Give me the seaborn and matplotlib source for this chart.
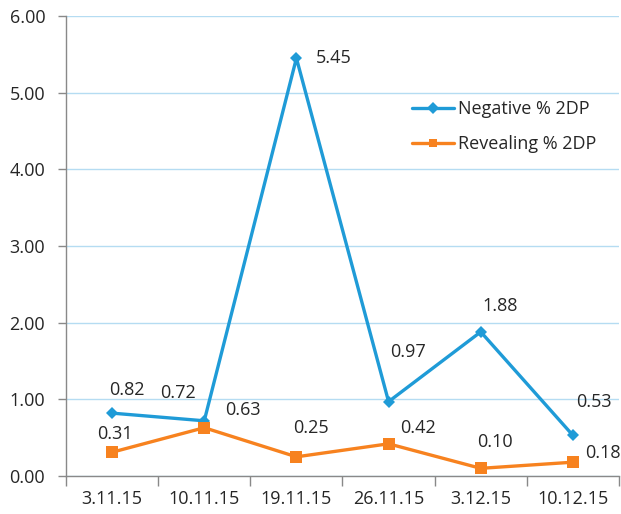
import numpy as np
import pandas as pd
import seaborn as sns
import matplotlib.pyplot as plt
from matplotlib.ticker import FixedLocator

dates = ["3.11.15", "10.11.15", "19.11.15", "26.11.15", "3.12.15", "10.12.15"]
negative = [0.82, 0.72, 5.45, 0.97, 1.88, 0.53]
revealing = [0.31, 0.63, 0.25, 0.42, 0.10, 0.18]

# label offsets (pixels)
neg_off = [(15, 23), (-26, 28), (37, 0), (19, 50), (19, 26), (21, 33)]
rev_off = [(3, 18), (39, 18), (15, 29), (29, 16), (14, 26), (30, 9)]

BLUE = "#1f9bd7"
ORANGE = "#f7821f"
FS = 13

sns.set_style("white")
plt.rcParams["font.family"] = ["Open Sans", "DejaVu Sans"]

df = pd.DataFrame({
    "date": dates * 2,
    "value": negative + revealing,
    "series": ["Negative % 2DP"] * 6 + ["Revealing % 2DP"] * 6,
})

fig = plt.figure(figsize=(6.21, 5.14), dpi=100)
ax = fig.add_axes([66 / 621, 1 - 476 / 514, 553 / 621, 460 / 514])

sns.lineplot(data=df, x="date", y="value", hue="series", style="series",
             palette=[BLUE, ORANGE], markers=["D", "s"], dashes=False,
             sort=False, linewidth=2.4, markeredgewidth=0, ax=ax)
for ln, ms in zip(ax.lines, [6.5, 8.5]):
    ln.set_markersize(ms)

ax.set_xlim(-0.5, 5.5)
ax.set_ylim(0, 6)
ax.set_yticks(np.arange(0, 6.01, 1))
ax.set_yticklabels([f"{v:.2f}" for v in np.arange(0, 6.01, 1)])
ax.set_xticks(range(len(dates)))
ax.set_xticklabels(dates)
ax.xaxis.set_minor_locator(FixedLocator(np.arange(-0.5, 5.51, 1)))
ax.tick_params(axis="x", which="major", length=0, pad=10, labelsize=FS)
ax.tick_params(axis="x", which="minor", length=7, width=1, color="#898989", direction="out", bottom=True)
ax.tick_params(axis="y", length=6, width=1, color="#898989", direction="out", left=True, pad=9, labelsize=FS)
ax.set_xlabel("")
ax.set_ylabel("")

ax.yaxis.grid(True, color="#b5dcf2", linewidth=1)
ax.set_axisbelow(True)
for s in ["top", "right"]:
    ax.spines[s].set_visible(False)
for s in ["left", "bottom"]:
    ax.spines[s].set_color("#898989")
    ax.spines[s].set_linewidth(1)

for i, (v, off) in enumerate(zip(negative, neg_off)):
    ax.annotate(f"{v:.2f}", (i, v), xytext=off, textcoords="offset pixels",
                ha="center", va="center", fontsize=FS)
for i, (v, off) in enumerate(zip(revealing, rev_off)):
    ax.annotate(f"{v:.2f}", (i, v), xytext=off, textcoords="offset pixels",
                ha="center", va="center", fontsize=FS)

ax.legend(loc="upper left", bbox_to_anchor=((412 - 66) / 553, (476 - 100) / 460),
          frameon=False, fontsize=FS, handlelength=2.3, handletextpad=0.25,
          labelspacing=0.95, borderpad=0, borderaxespad=0)

fig.savefig("out.png", dpi=100)
